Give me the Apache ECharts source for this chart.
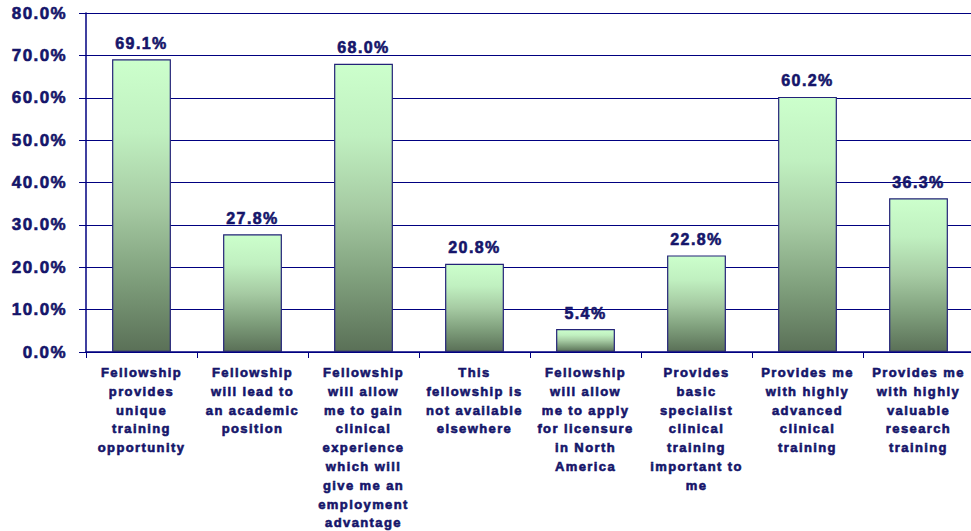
<!DOCTYPE html>
<html>
<head>
<meta charset="utf-8">
<script src="https://cdn.jsdelivr.net/npm/echarts@6/dist/echarts.min.js"></script>
<style>
  html, body { margin: 0; padding: 0; background: #ffffff; }
  #chart { width: 971px; height: 531px; }
  /* slightly tracked-out lettering for all chart text */
  #chart text { letter-spacing: 1.4px; }
</style>
</head>
<body>
<div id="chart"></div>
<script>
// Reasons for taking up a fellowship (% of respondents)
const categories = [
  'Fellowship\nprovides\nunique\ntraining\nopportunity',
  'Fellowship\nwill lead to\nan academic\nposition',
  'Fellowship\nwill allow\nme to gain\nclinical\nexperience\nwhich will\ngive me an\nemployment\nadvantage',
  'This\nfellowship is\nnot available\nelsewhere',
  'Fellowship\nwill allow\nme to apply\nfor licensure\nin North\nAmerica',
  'Provides\nbasic\nspecialist\nclinical\ntraining\nimportant to\nme',
  'Provides me\nwith highly\nadvanced\nclinical\ntraining',
  'Provides me\nwith highly\nvaluable\nresearch\ntraining'
];
const percentages = [69.1, 27.8, 68.0, 20.8, 5.4, 22.8, 60.2, 36.3];
const yMin = 0, yMax = 80, yStep = 10;

const navy = '#15156a';
const font = 'Liberation Sans, Arial, sans-serif';

// heavy lettering: bold face plus a thin outline in the same colour
const heavyText = {
  color: navy,
  fontFamily: font,
  fontWeight: 'bold',
  textBorderColor: navy,
  textBorderWidth: 0.6
};

const chart = echarts.init(document.getElementById('chart'), null, { renderer: 'svg' });
chart.setOption({
  animation: false,
  grid: { left: 86, right: -3, top: 13, bottom: 179, containLabel: false, outerBoundsMode: 'none' },
  xAxis: {
    type: 'category',
    data: categories,
    axisLine: { show: true, lineStyle: { color: '#000080', width: 1.5 } },
    axisTick: { show: true, length: 6, lineStyle: { color: '#000080', width: 1 } },
    axisLabel: Object.assign({
      interval: 0,
      margin: 11,
      fontSize: 13,
      lineHeight: 18.8,
      align: 'center'
    }, heavyText)
  },
  yAxis: {
    type: 'value',
    min: yMin,
    max: yMax,
    interval: yStep,
    axisLine: { show: true, lineStyle: { color: '#000080', width: 1.5 } },
    axisTick: { show: true, length: 7, lineStyle: { color: '#000080', width: 1 } },
    splitLine: { show: true, lineStyle: { color: '#000080', width: 1 } },
    axisLabel: Object.assign({
      margin: 19,
      fontSize: 17,
      formatter: v => v.toFixed(1) + '%'
    }, heavyText)
  },
  series: [{
    type: 'bar',
    data: percentages,
    barWidth: '53%',
    itemStyle: {
      borderColor: '#232378',
      borderWidth: 1.2,
      color: new echarts.graphic.LinearGradient(0, 0, 0, 1, [
        { offset: 0, color: '#ccffcc' },
        { offset: 0.25, color: '#c0f0c0' },
        { offset: 0.5, color: '#a6cba3' },
        { offset: 0.75, color: '#7f9f7c' },
        { offset: 1, color: '#5a7057' }
      ])
    },
    label: Object.assign({
      show: true,
      position: 'top',
      distance: 8,
      fontSize: 16,
      formatter: p => p.value.toFixed(1) + '%'
    }, heavyText)
  }]
});
</script>
</body>
</html>
